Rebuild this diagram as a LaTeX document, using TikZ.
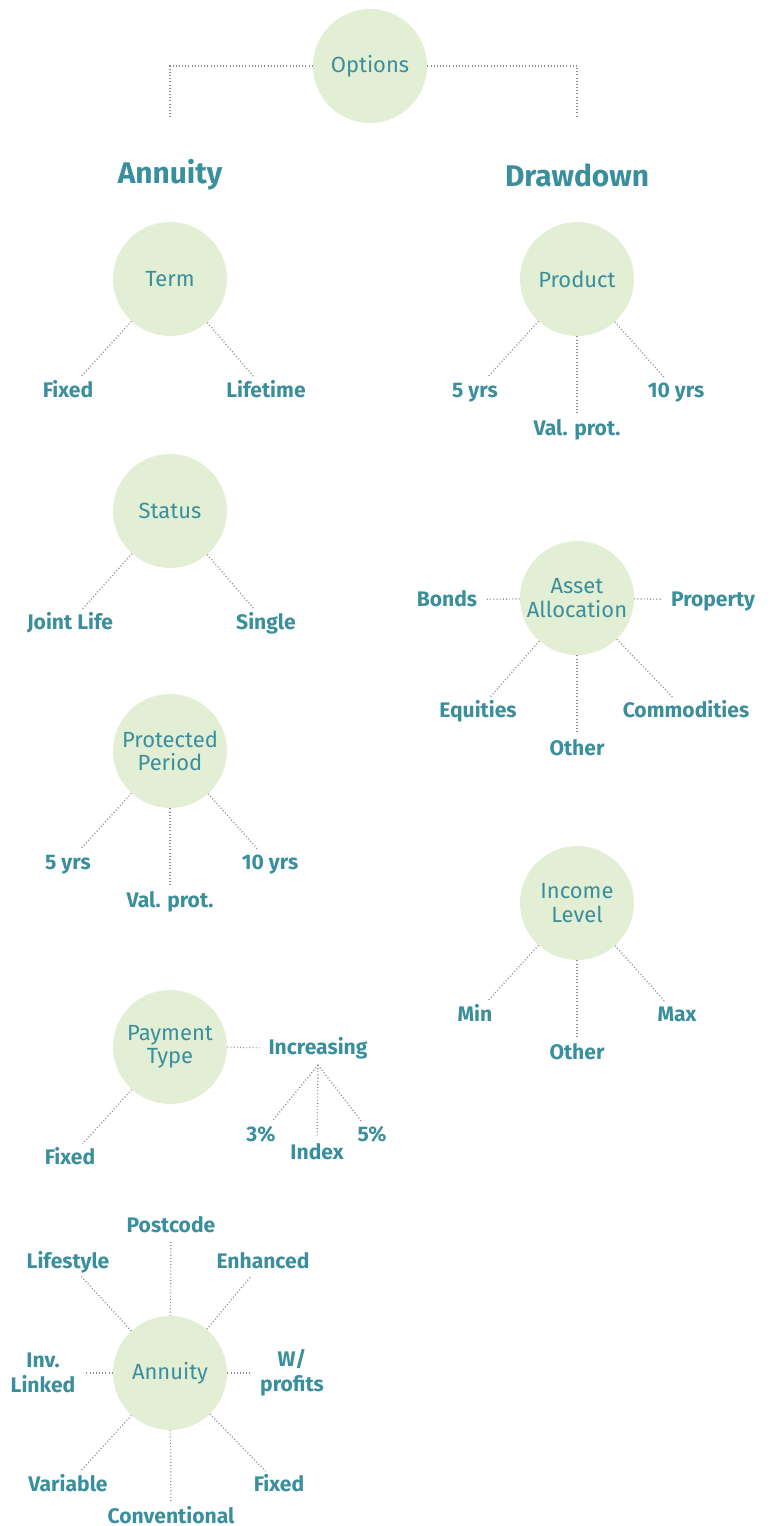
\documentclass[tikz,border=0pt]{standalone}
\usepackage{fontspec}
\setmainfont{Fira Sans}
\usepackage{xcolor}
\usepackage{tikz}
\definecolor{bubblecolor}{HTML}{E2EFD4}
\definecolor{labelcolor}{HTML}{3B8F9D}
\definecolor{linkcolor}{HTML}{8C8C8C}

\begin{document}
\begin{tikzpicture}[x=0.02cm, y=-0.02cm,
  bubble/.style={circle, fill=bubblecolor, minimum size=2.28cm, inner sep=0pt, align=center, text=labelcolor, font=\fontsize{12.5}{13.3}\selectfont},
  leafpair/.style={text=labelcolor, align=center, inner sep=2pt, font=\bfseries\fontsize{12}{14}\selectfont},
  leaf/.style={text=labelcolor, inner sep=2pt, yshift=-1.1pt, text height=0.7em, text depth=0pt, font=\bfseries\fontsize{12}{14}\selectfont},
  heading/.style={text=labelcolor, font=\bfseries\fontsize{17}{20}\selectfont},
  link/.style={draw=linkcolor, line width=0.8pt, dash pattern=on 0.5pt off 1.3pt, shorten >=3pt}]%
\useasboundingbox (0,0) rectangle (771,1526);%
% top level
\node[bubble] (options) at (370,66) {Options};%
\node[heading] (annuity) at (170,175) {Annuity};%
\node[heading] (drawdown) at (577,175) {Drawdown};%
\coordinate (annuitytop) at (170,117);%
\coordinate (drawdowntop) at (577,117);%
\draw[link, shorten >=0pt] (options) -| (annuitytop);%
\draw[link, shorten >=0pt] (options) -| (drawdowntop);%
% annuity side
\node[bubble] (term) at (170,279) {Term};%
\node[leaf] (termfixed) at (68,389) {Fixed};%
\node[leaf] (termlife) at (266,389) {Lifetime};%
\draw[link] (term) -- (termfixed);%
\draw[link] (term) -- (termlife);%
\node[bubble] (status) at (170,511) {Status};%
\node[leaf] (statusjoint) at (70,621) {Joint Life};%
\node[leaf] (statussingle) at (266,621) {Single};%
\draw[link] (status) -- (statusjoint);%
\draw[link] (status) -- (statussingle);%
\node[bubble] (protected) at (170,751) {Protected\\Period};%
\node[leaf] (prot5) at (68,861) {5 yrs};%
\node[leaf] (protval) at (170,899) {Val. prot.};%
\node[leaf] (prot10) at (270,861) {10 yrs};%
\draw[link] (protected) -- (prot5);%
\draw[link] (protected) -- (protval);%
\draw[link] (protected) -- (prot10);%
\node[bubble] (payment) at (170,1047) {Payment\\Type};%
\node[leaf] (payfixed) at (70,1156) {Fixed};%
\node[leaf] (increasing) at (318,1046) {Increasing};%
\node[leaf] (pct3) at (261,1133) {3\%};%
\node[leaf] (index) at (317,1151) {Index};%
\node[leaf] (pct5) at (372,1133) {5\%};%
\draw[link] (payment) -- (payfixed);%
\draw[link] (payment) -- (increasing);%
\draw[link] ([yshift=-4pt]increasing.south) -- (pct3);%
\draw[link] ([yshift=-4pt]increasing.south) -- (index);%
\draw[link] ([yshift=-4pt]increasing.south) -- (pct5);%
\node[bubble] (product) at (170,1373) {Annuity};%
\node[leaf] (postcode) at (171,1224) {Postcode};%
\node[leaf] (lifestyle) at (68,1260) {Lifestyle};%
\node[leaf] (enhanced) at (263,1260) {Enhanced};%
\node[leafpair] (invlinked) at (43,1373) {Inv.\\Linked};%
\node[leafpair] (withprofits) at (292,1373) {W/\\profits};%
\node[leaf] (variable) at (68,1483) {Variable};%
\node[leaf] (prodfixed) at (279,1483) {Fixed};%
\node[leaf] (conventional) at (171,1515) {Conventional};%
\draw[link] (product) -- (postcode);%
\draw[link] (product) -- (lifestyle);%
\draw[link] (product) -- (enhanced);%
\draw[link] (product) -- (invlinked);%
\draw[link] (product) -- (withprofits);%
\draw[link] (product) -- (variable);%
\draw[link] (product) -- (prodfixed);%
\draw[link] (product) -- (conventional);%
% drawdown side
\node[bubble] (drawproduct) at (577,279) {Product};%
\node[leaf] (draw5) at (475,389) {5 yrs};%
\node[leaf] (drawval) at (577,427) {Val. prot.};%
\node[leaf] (draw10) at (676,389) {10 yrs};%
\draw[link] (drawproduct) -- (draw5);%
\draw[link] (drawproduct) -- (drawval);%
\draw[link] (drawproduct) -- (draw10);%
\node[bubble] (asset) at (577,598) {Asset\\Allocation};%
\node[leaf] (bonds) at (447,598) {Bonds};%
\node[leaf] (property) at (713,598) {Property};%
\node[leaf] (equities) at (478,709) {Equities};%
\node[leaf] (assetother) at (577,747) {Other};%
\node[leaf] (commodities) at (686,709) {Commodities};%
\draw[link] (asset) -- (bonds);%
\draw[link] (asset) -- (property);%
\draw[link] (asset) -- (equities);%
\draw[link] (asset) -- (assetother);%
\draw[link] (asset) -- (commodities);%
\node[bubble] (income) at (577,903) {Income\\Level};%
\node[leaf] (incmin) at (475,1013) {Min};%
\node[leaf] (incother) at (577,1051) {Other};%
\node[leaf] (incmax) at (677,1013) {Max};%
\draw[link] (income) -- (incmin);%
\draw[link] (income) -- (incother);%
\draw[link] (income) -- (incmax);%
\end{tikzpicture}
\end{document}
